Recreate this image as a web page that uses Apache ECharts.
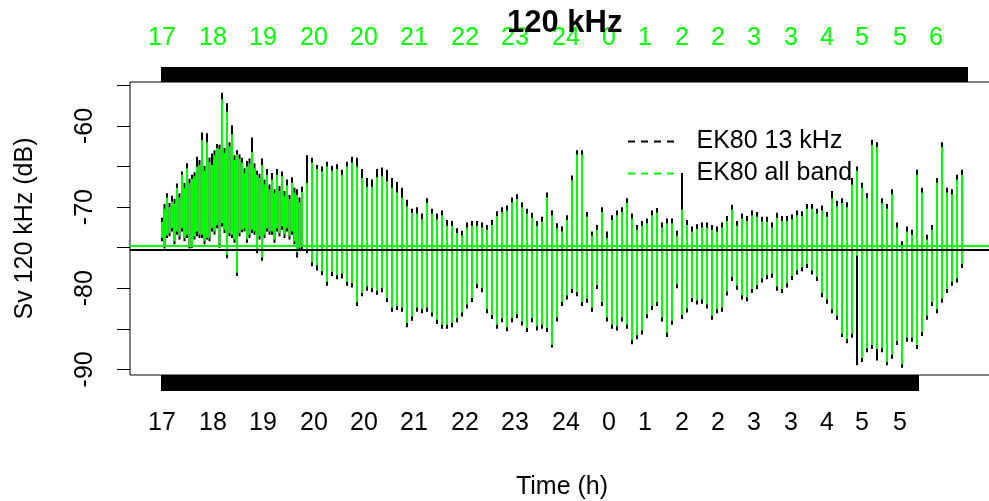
<!DOCTYPE html>
<html>
<head>
<meta charset="utf-8">
<script src="https://cdn.jsdelivr.net/npm/echarts@6/dist/echarts.min.js"></script>
<style>
  html, body { margin: 0; padding: 0; background: #fff; }
  #chart { width: 989px; height: 501px; }
</style>
</head>
<body>
<div id="chart"></div>
<script>
const FONT = '"Liberation Sans", Arial, Helvetica, sans-serif';

// Sv at 120 kHz (dB): per-ping range (upper / lower value), all-band processing
const allBandHigh = [
  -71.8,-68.8,-69.3,-67.6,-66.0,-65.2,-66.5,-65.0,-61.7,-62.0,
  -64.8,-62.7,-56.7,-58.2,-61.0,-63.5,-64.5,-65.0,-63.2,-66.0,
  -64.8,-66.0,-66.6,-66.0,-66.2,-67.3,-67.0,-68.5,-68.1,-67.0,
  -64.5,-65.3,-65.6,-65.0,-65.5,-65.3,-66.0,-65.0,-64.5,-65.0,
  -66.4,-67.5,-67.5,-66.3,-66.2,-66.8,-67.6,-68.2,-68.8,-69.9,
  -70.7,-70.8,-71.5,-69.5,-70.8,-71.5,-71.0,-72.3,-72.3,-73.2,
  -73.5,-72.5,-72.3,-72.3,-72.5,-72.8,-72.2,-71.1,-70.6,-70.4,
  -69.4,-69.0,-70.0,-70.8,-71.3,-72.3,-71.8,-68.8,-71.0,-72.6,
  -73.0,-71.6,-66.7,-63.5,-63.5,-71.2,-73.5,-72.8,-70.6,-73.8,
  -71.6,-71.0,-70.6,-69.5,-71.4,-72.8,-72.3,-72.0,-71.0,-70.7,
  -72.5,-72.0,-72.0,-73.5,-70.3,-72.2,-73.0,-72.7,-72.5,-72.5,
  -72.8,-73.0,-72.5,-71.7,-70.3,-72.3,-71.4,-71.7,-71.0,-71.2,
  -71.8,-71.8,-72.5,-71.3,-71.7,-71.7,-71.5,-71.0,-71.1,-70.2,
  -70.2,-70.8,-70.4,-71.2,-68.9,-69.9,-69.5,-70.0,-67.2,-65.5,
  -67.6,-68.9,-62.3,-62.6,-69.5,-70.2,-68.4,-72.5,-74.7,-73.0,
  -73.4,-66.0,-68.2,-74.0,-72.8,-67.0,-62.6,-68.2,-68.4,-66.6,-66.0
];
const allBandLow = [
  -73.8,-73.5,-72.6,-73.0,-72.6,-73.4,-74.8,-73.0,-73.4,-73.8,
  -72.6,-72.2,-72.0,-75.9,-73.4,-78.1,-72.8,-74.0,-72.8,-75.3,
  -76.2,-72.6,-73.0,-72.6,-72.4,-72.6,-73.0,-75.6,-74.8,-75.3,
  -76.8,-77.2,-77.9,-79.2,-78.0,-78.4,-78.2,-79.2,-79.4,-81.7,
  -80.6,-79.8,-80.0,-80.3,-80.0,-81.2,-82.4,-82.2,-82.4,-84.3,
  -83.5,-82.4,-82.6,-82.4,-83.0,-83.9,-84.5,-84.5,-84.3,-83.7,
  -83.0,-82.0,-81.2,-79.5,-80.0,-82.6,-83.3,-84.5,-83.7,-84.8,
  -83.7,-83.2,-84.1,-84.9,-83.7,-84.7,-84.5,-84.9,-87.0,-83.6,
  -81.7,-80.9,-80.1,-80.5,-81.7,-81.3,-82.4,-79.6,-81.7,-83.6,
  -84.5,-84.7,-83.6,-84.5,-86.4,-85.8,-85.2,-83.2,-82.2,-81.7,
  -83.6,-85.5,-84.0,-79.5,-83.3,-82.5,-81.2,-81.5,-81.4,-82.0,
  -83.4,-82.6,-82.4,-80.4,-78.6,-79.7,-80.9,-81.1,-80.1,-79.6,
  -78.8,-78.4,-78.2,-79.8,-80.1,-79.4,-78.5,-77.8,-77.4,-77.0,
  -77.8,-78.6,-80.6,-81.4,-82.6,-83.4,-85.6,-86.3,-85.6,-76.0,
  -88.6,-87.4,-87.0,-87.5,-87.4,-89.1,-88.2,-86.5,-89.4,-86.1,
  -86.1,-87.0,-85.4,-83.4,-81.7,-82.6,-81.3,-80.1,-79.2,-78.8,-77.0
];
// Extra pings of the dense evening stretch (half a step after pings 0..27)
const allBandHighEvening = [
  -70.2,-70.0,-69.6,-68.8,-67.6,-67.0,-66.2,-64.8,-65.5,-64.4,
  -63.6,-62.8,-63.3,-62.5,-64.2,-64.0,-65.8,-64.6,-65.2,-66.4,
  -67.2,-67.8,-68.3,-68.0,-68.6,-69.0,-68.2,-69.4
];
const allBandLowEvening = [
  -74.8,-73.2,-74.2,-73.6,-73.8,-74.8,-73.6,-73.4,-74.2,-73.8,
  -73.0,-74.6,-72.8,-73.2,-74.0,-73.2,-72.6,-73.4,-73.0,-73.6,
  -73.4,-73.0,-74.0,-73.2,-73.4,-73.6,-74.2,-75.0
];

// Sv at 120 kHz (dB): per-ping range (upper / lower value), 13 kHz band
const k13High = [
  -71.3,-68.3,-68.6,-67.1,-65.6,-64.6,-66.0,-63.8,-60.8,-60.9,
  -63.4,-62.2,-55.9,-57.2,-59.9,-63.0,-63.9,-64.3,-61.4,-65.5,
  -64.0,-65.3,-65.8,-65.3,-65.6,-66.6,-66.3,-67.8,-67.5,-63.6,
  -63.9,-64.8,-65.0,-64.4,-64.9,-64.7,-65.4,-64.4,-63.8,-63.9,
  -65.3,-66.4,-66.6,-65.3,-65.1,-65.4,-66.4,-66.9,-67.6,-69.1,
  -70.2,-70.0,-70.8,-68.9,-70.2,-70.8,-70.4,-71.6,-71.7,-72.6,
  -72.9,-71.9,-71.7,-71.7,-71.9,-72.2,-71.6,-70.5,-70.0,-69.8,
  -68.8,-68.4,-69.4,-70.2,-70.7,-71.7,-71.2,-68.2,-70.4,-72.0,
  -72.4,-71.0,-66.1,-63.0,-63.0,-70.6,-73.0,-72.2,-70.0,-73.0,
  -71.0,-70.4,-70.0,-68.9,-70.8,-72.2,-71.7,-71.4,-70.4,-70.1,
  -71.9,-71.4,-71.4,-72.9,-65.8,-71.6,-72.4,-72.1,-71.9,-71.9,
  -72.2,-72.4,-71.9,-71.1,-69.7,-71.7,-70.8,-71.1,-70.4,-70.6,
  -71.2,-71.2,-71.9,-70.7,-71.1,-71.1,-70.9,-70.4,-70.5,-69.6,
  -69.6,-70.2,-69.8,-70.6,-68.0,-69.2,-68.9,-69.4,-66.4,-65.0,
  -67.0,-68.3,-61.7,-62.0,-68.9,-69.6,-67.8,-71.9,-74.2,-72.4,
  -72.8,-65.4,-67.6,-73.4,-72.2,-66.4,-62.0,-67.6,-67.8,-66.0,-65.4
];
const k13Low = [
  -74.2,-73.8,-73.0,-73.4,-73.0,-73.8,-75.0,-73.6,-73.8,-74.0,
  -73.0,-72.6,-72.4,-76.3,-73.8,-78.5,-73.1,-74.4,-73.2,-75.7,
  -76.6,-73.0,-73.4,-73.0,-72.8,-73.0,-73.4,-76.2,-75.3,-75.7,
  -77.3,-77.8,-78.4,-79.7,-78.5,-78.9,-78.8,-79.7,-79.9,-82.2,
  -81.0,-80.3,-80.5,-80.8,-80.5,-81.7,-82.9,-82.7,-82.9,-84.8,
  -84.0,-82.9,-83.1,-82.9,-83.5,-84.4,-85.0,-85.0,-84.8,-84.2,
  -83.5,-82.5,-81.7,-80.0,-80.5,-83.1,-83.8,-85.0,-84.2,-85.3,
  -84.2,-83.7,-84.6,-85.4,-84.2,-85.2,-85.0,-85.4,-87.3,-84.1,
  -82.2,-81.4,-80.6,-81.0,-82.2,-81.8,-82.9,-80.1,-82.2,-84.1,
  -85.0,-85.2,-84.1,-85.0,-86.9,-86.3,-85.7,-83.7,-82.7,-82.2,
  -84.1,-86.0,-84.5,-80.0,-83.8,-83.0,-81.7,-82.0,-81.9,-82.5,
  -83.9,-83.1,-82.9,-80.9,-79.1,-80.2,-81.4,-81.6,-80.6,-80.1,
  -79.3,-78.9,-78.7,-80.3,-80.6,-79.9,-79.0,-78.3,-77.9,-77.5,
  -78.3,-79.1,-81.1,-81.9,-83.1,-83.9,-86.0,-86.8,-86.1,-89.5,
  -89.1,-87.9,-87.5,-88.9,-87.9,-89.5,-88.7,-87.0,-89.8,-86.6,
  -86.6,-87.5,-85.9,-83.9,-82.2,-83.1,-81.8,-80.6,-79.7,-79.3,-77.5
];
const k13HighEvening = [
  -69.6,-69.5,-69.0,-68.3,-67.0,-66.5,-65.7,-64.2,-64.9,-63.9,
  -63.0,-62.3,-62.7,-62.0,-63.6,-63.5,-65.2,-64.0,-64.6,-65.9,
  -66.6,-67.2,-67.8,-67.4,-68.0,-68.5,-67.6,-68.8
];
const k13LowEvening = [
  -75.1,-73.6,-74.6,-74.0,-74.2,-75.1,-74.0,-73.8,-74.6,-74.2,
  -73.4,-75.0,-73.2,-73.6,-74.4,-73.6,-73.0,-73.8,-73.4,-74.0,
  -73.8,-73.4,-74.4,-73.6,-73.8,-74.0,-74.6,-75.4
];

// Mean levels drawn as horizontal reference lines
const meanAllBand = -74.75;
const mean13k = -75.2;

// Hour labels placed at ping positions along the two time axes
const bottomLabelPings = [0, 10.2, 20.2, 30.4, 40.4, 50.4, 60.6, 70.6, 80.8, 89.4, 96.6, 104, 111.2, 118.4, 125.8, 133, 140, 147.6];
const bottomLabelHours = ['17','18','19','20','20','21','22','23','24','0','1','2','2','3','3','4','5','5'];
const topLabelPings = [0, 10.2, 20.2, 30.4, 40.4, 50.4, 60.6, 70.6, 80.8, 89.4, 96.6, 104, 111.2, 118.4, 125.8, 133, 140, 147.6, 154.8];
const topLabelHours = ['17','18','19','20','20','21','22','23','24','0','1','2','2','3','3','4','5','5','6'];

// Extent of the time stamps on each axis (in pings)
const bottomTickEnd = 151.2;
const topTickEnd = 161;

const yTickValues = [-90, -85, -80, -75, -70, -65, -60, -55];
const yLabelValues = [-90, -80, -70, -60];

// one tick per time stamp: dense enough to merge into a solid rug
function stampTicks(end) {
  const t = [];
  for (let p = 0; p <= end + 1e-9; p += 0.2) t.push(+p.toFixed(2));
  return t;
}
function hourFormatter(pings, hours) {
  return function (v) {
    for (let i = 0; i < pings.length; i++) {
      if (Math.abs(pings[i] - v) < 1e-6) return hours[i];
    }
    return '';
  };
}

// [ping, low, high] rows: regular pings plus the half-step evening pings
function pingRows(lows, highs, eveLows, eveHighs) {
  const rows = lows.map((lo, i) => [i, lo, highs[i]]);
  eveLows.forEach((lo, i) => rows.push([i + 0.5, lo, eveHighs[i]]));
  return rows.sort((a, b) => a[0] - b[0]);
}

// Vertical segment per ping, from its lower to its upper Sv value
function rangeSeries(name, color, rows, z, extra) {
  return Object.assign({
    name: name,
    type: 'custom',
    z: z,
    clip: true,
    itemStyle: { color: color },
    encode: { x: 0, y: [1, 2] },
    data: rows,
    renderItem: function (params, api) {
      const a = api.coord([api.value(0), api.value(1)]);
      const b = api.coord([api.value(0), api.value(2)]);
      return {
        type: 'line',
        shape: { x1: a[0], y1: a[1], x2: b[0], y2: b[1] },
        style: { stroke: color, lineWidth: 2 }
      };
    }
  }, extra || {});
}

const dashIcon = 'path://M0,0h7v2h-7z M13,0h7v2h-7z M26,0h7v2h-7z M39,0h7v2h-7z';

const chart = echarts.init(document.getElementById('chart'), null, { renderer: 'canvas' });

chart.setOption({
  animation: false,
  backgroundColor: '#ffffff',
  textStyle: { fontFamily: FONT },
  title: {
    text: '120 kHz',
    left: 502,
    top: 3,
    textStyle: { fontFamily: FONT, fontSize: 31, fontWeight: 'bold', color: '#000' }
  },
  legend: {
    data: [
      { name: 'EK80 13 kHz', icon: dashIcon },
      { name: 'EK80 all band', icon: dashIcon }
    ],
    orient: 'vertical',
    left: 628,
    top: 129,
    padding: 0,
    itemWidth: 47,
    itemHeight: 2,
    itemGap: 7,
    textStyle: { fontFamily: FONT, fontSize: 25, lineHeight: 25, color: '#000', padding: [0, 0, 0, 17] }
  },
  grid: {
    left: 130,
    top: 82,
    width: 864,
    height: 293,
    outerBoundsMode: 'none',
    containLabel: false,
    show: true,
    borderColor: '#000',
    borderWidth: 1,
    backgroundColor: 'transparent'
  },
  xAxis: [
    {
      type: 'value',
      position: 'bottom',
      min: -6.4,
      max: 166.4,
      name: 'Time (h)',
      nameLocation: 'middle',
      nameGap: 100,
      nameTextStyle: { fontFamily: FONT, fontSize: 25, color: '#000' },
      axisLine: { show: false, onZero: false },
      splitLine: { show: false },
      axisTick: {
        show: true, inside: false, length: 16,
        customValues: stampTicks(bottomTickEnd),
        lineStyle: { color: '#000', width: 2 }
      },
      axisLabel: {
        show: true, margin: 36,
        customValues: bottomLabelPings,
        formatter: hourFormatter(bottomLabelPings, bottomLabelHours),
        fontFamily: FONT, fontSize: 25, color: '#000'
      }
    },
    {
      type: 'value',
      position: 'top',
      min: -6.4,
      max: 166.4,
      axisLine: { show: false, onZero: false },
      splitLine: { show: false },
      axisTick: {
        show: true, inside: false, length: 15,
        customValues: stampTicks(topTickEnd),
        lineStyle: { color: '#000', width: 2 }
      },
      axisLabel: {
        show: true, margin: 31,
        customValues: topLabelPings,
        formatter: hourFormatter(topLabelPings, topLabelHours),
        fontFamily: FONT, fontSize: 25, color: '#00ff00'
      }
    }
  ],
  yAxis: {
    type: 'value',
    min: -90.7,
    max: -54.57,
    name: 'Sv 120 kHz (dB)',
    nameLocation: 'middle',
    nameGap: 92,
    nameTextStyle: { fontFamily: FONT, fontSize: 25, color: '#000' },
    axisLine: { show: false, onZero: false },
    splitLine: { show: false },
    axisTick: {
      show: true, inside: false, length: 13,
      customValues: yTickValues,
      lineStyle: { color: '#000', width: 1 }
    },
    axisLabel: {
      show: true, rotate: 90, margin: 32,
      customValues: yLabelValues,
      fontFamily: FONT, fontSize: 25, color: '#000'
    }
  },
  series: [
    rangeSeries('EK80 13 kHz', '#000000',
      pingRows(k13Low, k13High, k13LowEvening, k13HighEvening), 2),
    rangeSeries('EK80 all band', '#00ff00',
      pingRows(allBandLow, allBandHigh, allBandLowEvening, allBandHighEvening), 3, {
      markLine: {
        silent: true,
        symbol: 'none',
        label: { show: false },
        data: [
          { yAxis: mean13k, lineStyle: { color: '#000000', width: 2, type: 'solid' } },
          { yAxis: meanAllBand, lineStyle: { color: '#00ff00', width: 2, type: 'solid' } }
        ]
      }
    })
  ]
});
</script>
</body>
</html>
